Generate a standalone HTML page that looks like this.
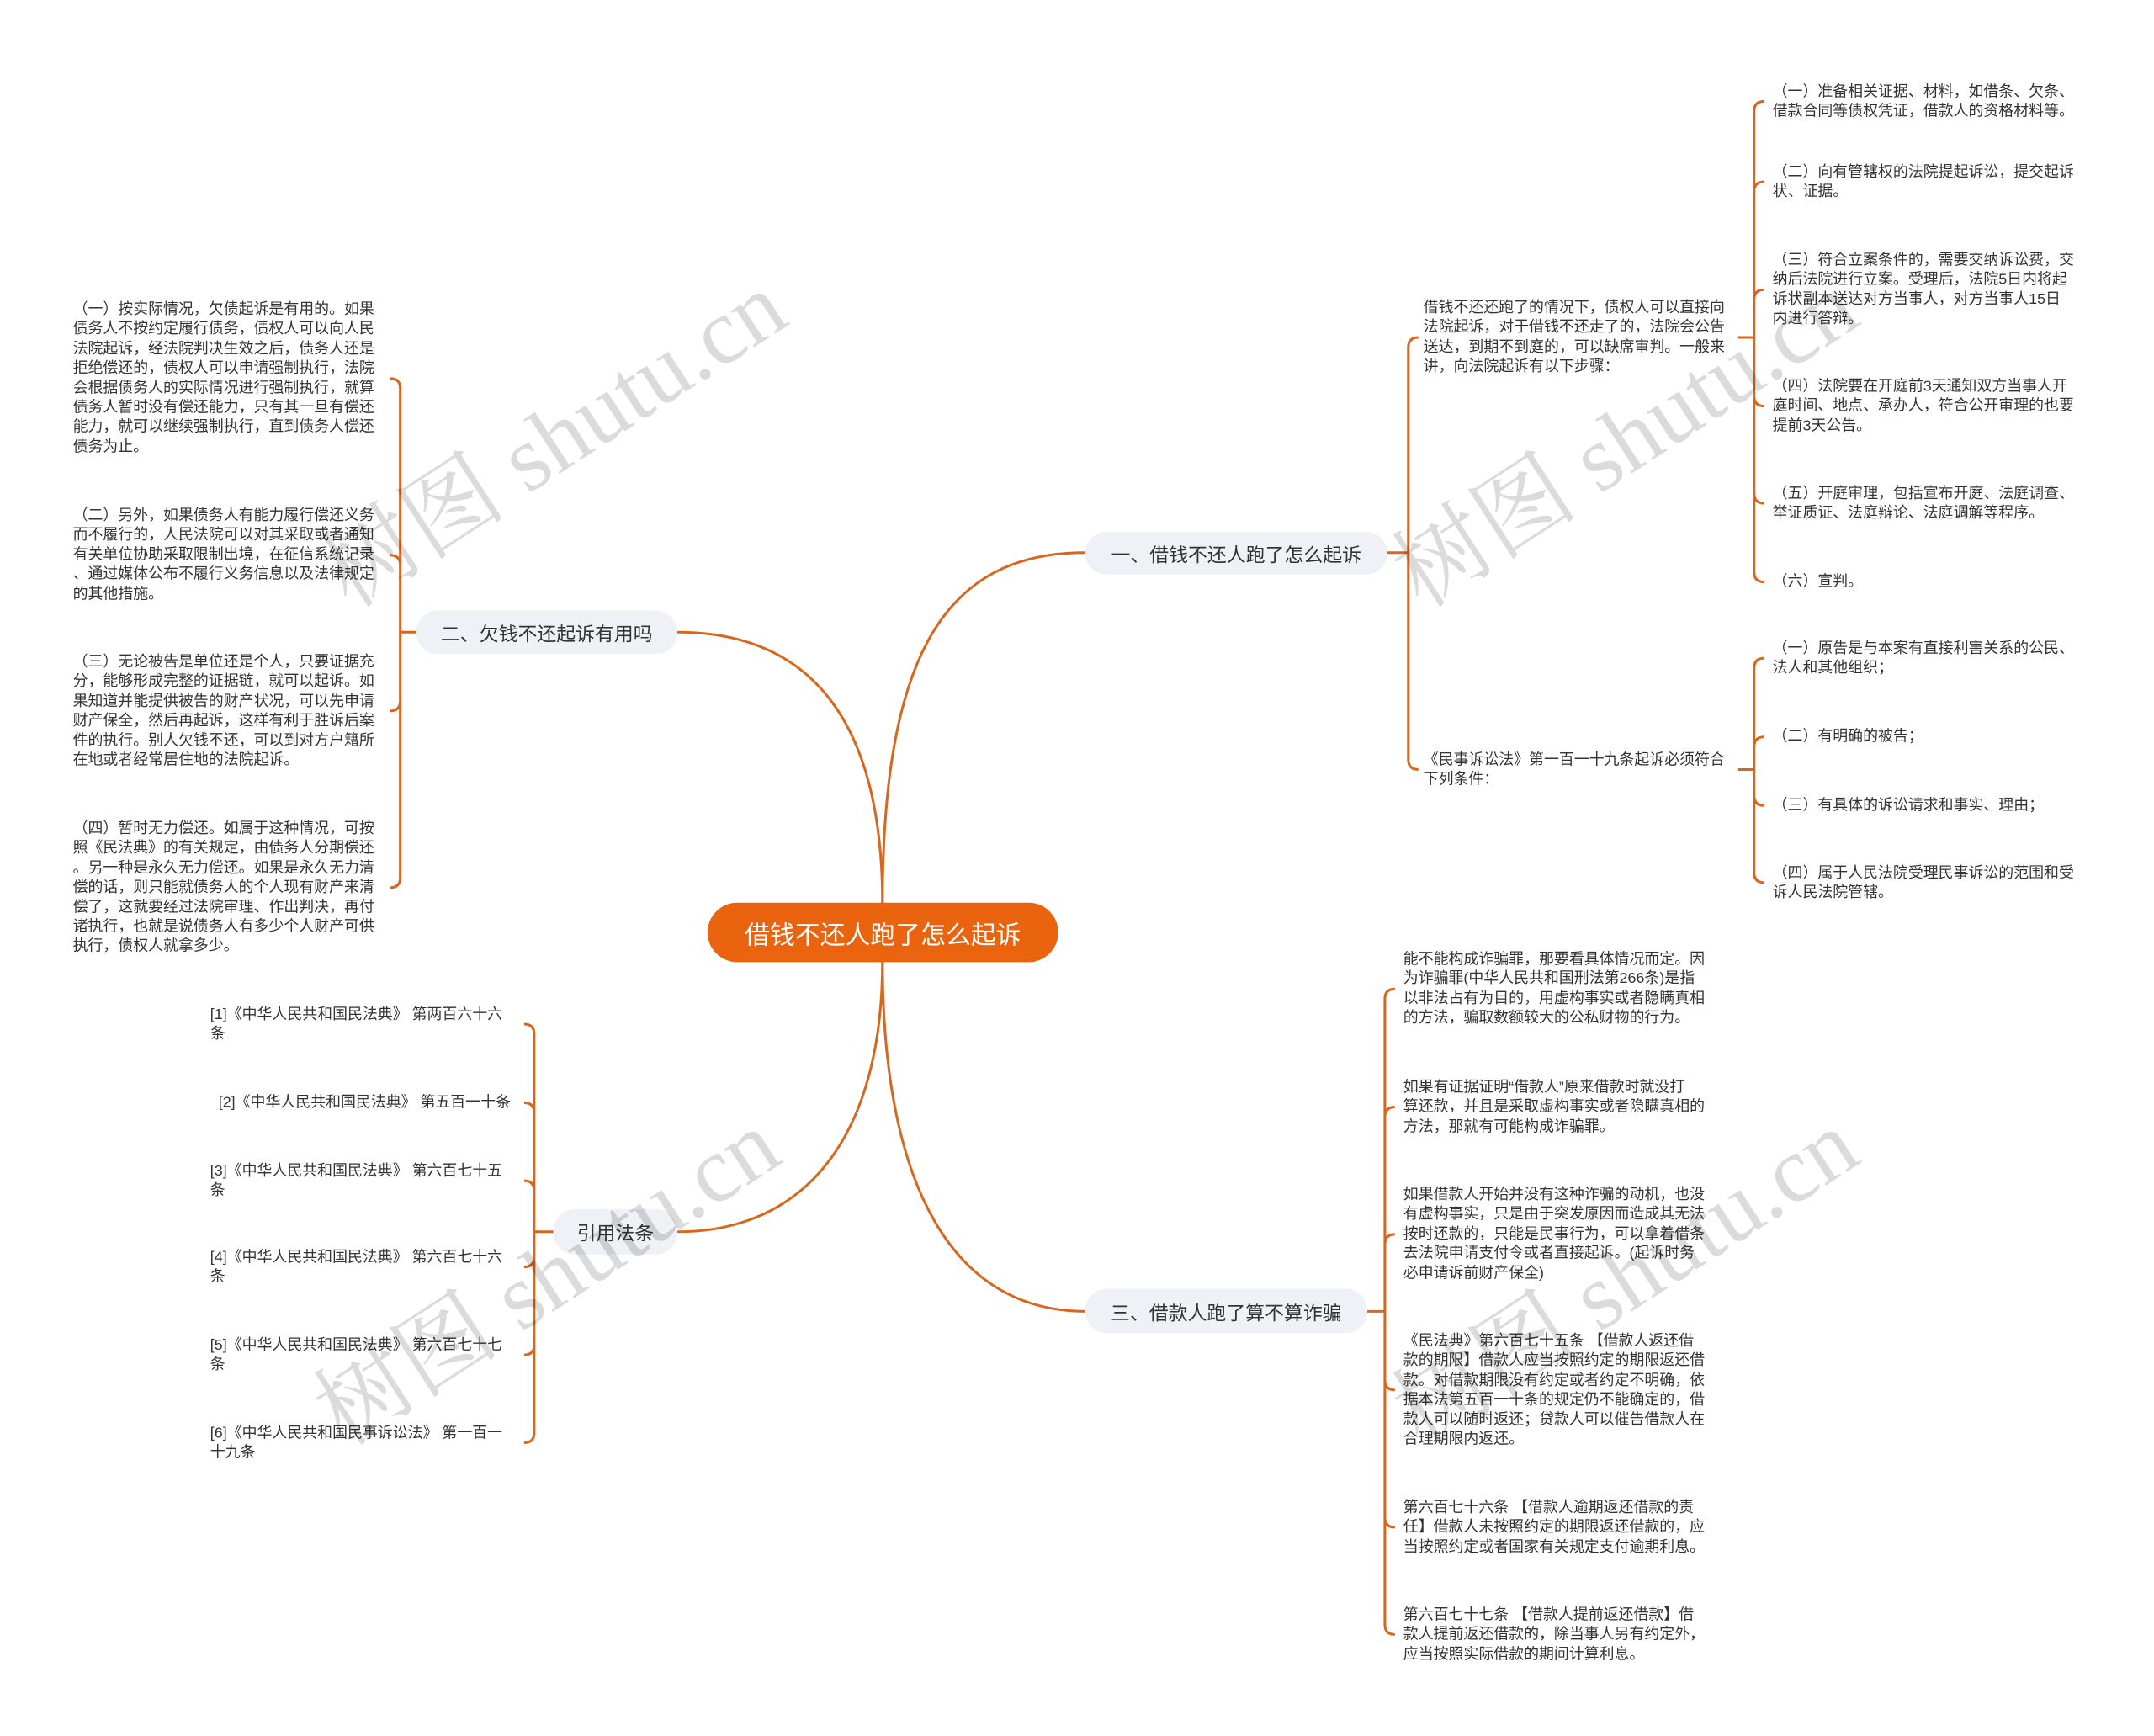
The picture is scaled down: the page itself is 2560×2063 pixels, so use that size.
<!DOCTYPE html>
<html><head><meta charset="utf-8"><style>
body{margin:0;width:2560px;height:2063px;background:#fff;position:relative;overflow:hidden;font-family:"Liberation Sans","Noto Sans CJK SC",sans-serif;}
#w{position:absolute;left:0;top:0;width:2560px;height:2063px;transform:scale(0.9951);transform-origin:0 0;}
.t{position:absolute;font-size:18px;line-height:23.4px;color:#333;white-space:nowrap;}
.b{position:absolute;background:#eef1f5;border-radius:26px;font-size:23px;color:#333;display:flex;align-items:center;justify-content:center;white-space:nowrap;}
.wm{position:absolute;font-family:"Liberation Serif","Noto Serif CJK SC",serif;font-size:112px;color:rgba(0,0,0,0.14);white-space:nowrap;transform:translate(-50%,-50%) rotate(-33deg);}
svg{position:absolute;left:0;top:0;}
</style></head><body><div id="w">
<svg width="2560" height="2063" fill="none" stroke="#d9661c" stroke-width="3">
<path d="M1054,1080 C1054,780 1130,660 1296,660"/>
<path d="M1054,1080 C1054,850 960,755 809,755"/>
<path d="M1054,1147 C1054,1360 960,1471 809,1471"/>
<path d="M1054,1147 C1054,1420 1140,1566 1296,1566"/>
<path d="M1657,660 L1682,660 M1682,660 L1682,415 Q1682,403 1694,403 M1682,660 L1682,907 Q1682,919 1694,919"/>
<path d="M2075,403 L2095,403 M2095,403 L2095,133 Q2095,121 2107,121 M2095,403 L2095,229 Q2095,217 2107,217 M2095,403 L2095,358 Q2095,346 2107,346 M2095,403 L2095,473 Q2095,485 2107,485 M2095,403 L2095,589 Q2095,601 2107,601 M2095,403 L2095,683 Q2095,695 2107,695"/>
<path d="M2075,919 L2095,919 M2095,919 L2095,798 Q2095,786 2107,786 M2095,919 L2095,892 Q2095,880 2107,880 M2095,919 L2095,950 Q2095,962 2107,962 M2095,919 L2095,1042 Q2095,1054 2107,1054"/>
<path d="M497,755 L478,755 M478,755 L478,464 Q478,452 466,452 M478,755 L478,675 Q478,663 466,663 M478,755 L478,837 Q478,849 466,849 M478,755 L478,1048 Q478,1060 466,1060"/>
<path d="M661,1471 L638,1471 M638,1471 L638,1235 Q638,1223 626,1223 M638,1471 L638,1329 Q638,1317 626,1317 M638,1471 L638,1422 Q638,1410 626,1410 M638,1471 L638,1501 Q638,1513 626,1513 M638,1471 L638,1606 Q638,1618 626,1618 M638,1471 L638,1711 Q638,1723 626,1723"/>
<path d="M1633,1566 L1654,1566 M1654,1566 L1654,1193 Q1654,1181 1666,1181 M1654,1566 L1654,1334 Q1654,1322 1666,1322 M1654,1566 L1654,1486 Q1654,1474 1666,1474 M1654,1566 L1654,1648 Q1654,1660 1666,1660 M1654,1566 L1654,1812 Q1654,1824 1666,1824 M1654,1566 L1654,1940 Q1654,1952 1666,1952"/>
</svg>

<div class="b" style="left:845px;top:1078px;width:419px;height:71px;background:#ea6410;border-radius:36px;color:#fff;font-size:30px;">借钱不还人跑了怎么起诉</div>
<div class="b" style="left:1296px;top:635px;width:361px;height:51px;">一、借钱不还人跑了怎么起诉</div>
<div class="b" style="left:497px;top:729px;width:312px;height:52px;">二、欠钱不还起诉有用吗</div>
<div class="b" style="left:661px;top:1444px;width:148px;height:54px;">引用法条</div>
<div class="b" style="left:1296px;top:1539px;width:337px;height:53px;">三、借款人跑了算不算诈骗</div>

<div class="t" style="left:1700px;top:356px;">借钱不还还跑了的情况下，债权人可以直接向<br>法院起诉，对于借钱不还走了的，法院会公告<br>送达，到期不到庭的，可以缺席审判。一般来<br>讲，向法院起诉有以下步骤：</div>
<div class="t" style="left:1700px;top:896px;">《民事诉讼法》第一百一十九条起诉必须符合<br>下列条件：</div>

<div class="t" style="left:2117px;top:98px;">（一）准备相关证据、材料，如借条、欠条、<br>借款合同等债权凭证，借款人的资格材料等。</div>
<div class="t" style="left:2117px;top:194px;">（二）向有管辖权的法院提起诉讼，提交起诉<br>状、证据。</div>
<div class="t" style="left:2117px;top:299px;">（三）符合立案条件的，需要交纳诉讼费，交<br>纳后法院进行立案。受理后，法院5日内将起<br>诉状副本送达对方当事人，对方当事人15日<br>内进行答辩。</div>
<div class="t" style="left:2117px;top:450px;">（四）法院要在开庭前3天通知双方当事人开<br>庭时间、地点、承办人，符合公开审理的也要<br>提前3天公告。</div>
<div class="t" style="left:2117px;top:578px;">（五）开庭审理，包括宣布开庭、法庭调查、<br>举证质证、法庭辩论、法庭调解等程序。</div>
<div class="t" style="left:2117px;top:683px;">（六）宣判。</div>

<div class="t" style="left:2117px;top:763px;">（一）原告是与本案有直接利害关系的公民、<br>法人和其他组织；</div>
<div class="t" style="left:2117px;top:868px;">（二）有明确的被告；</div>
<div class="t" style="left:2117px;top:950px;">（三）有具体的诉讼请求和事实、理由；</div>
<div class="t" style="left:2117px;top:1031px;">（四）属于人民法院受理民事诉讼的范围和受<br>诉人民法院管辖。</div>

<div class="t" style="left:87px;top:358px;">（一）按实际情况，欠债起诉是有用的。如果<br>债务人不按约定履行债务，债权人可以向人民<br>法院起诉，经法院判决生效之后，债务人还是<br>拒绝偿还的，债权人可以申请强制执行，法院<br>会根据债务人的实际情况进行强制执行，就算<br>债务人暂时没有偿还能力，只有其一旦有偿还<br>能力，就可以继续强制执行，直到债务人偿还<br>债务为止。</div>
<div class="t" style="left:87px;top:604px;">（二）另外，如果债务人有能力履行偿还义务<br>而不履行的，人民法院可以对其采取或者通知<br>有关单位协助采取限制出境，在征信系统记录<br>、通过媒体公布不履行义务信息以及法律规定<br>的其他措施。</div>
<div class="t" style="left:87px;top:779px;">（三）无论被告是单位还是个人，只要证据充<br>分，能够形成完整的证据链，就可以起诉。如<br>果知道并能提供被告的财产状况，可以先申请<br>财产保全，然后再起诉，这样有利于胜诉后案<br>件的执行。别人欠钱不还，可以到对方户籍所<br>在地或者经常居住地的法院起诉。</div>
<div class="t" style="left:87px;top:978px;">（四）暂时无力偿还。如属于这种情况，可按<br>照《民法典》的有关规定，由债务人分期偿还<br>。另一种是永久无力偿还。如果是永久无力清<br>偿的话，则只能就债务人的个人现有财产来清<br>偿了，这就要经过法院审理、作出判决，再付<br>诸执行，也就是说债务人有多少个人财产可供<br>执行，债权人就拿多少。</div>

<div class="t" style="left:251px;top:1200px;">[1]《中华人民共和国民法典》 第两百六十六<br>条</div>
<div class="t" style="left:261px;top:1305px;">[2]《中华人民共和国民法典》 第五百一十条</div>
<div class="t" style="left:251px;top:1387px;">[3]《中华人民共和国民法典》 第六百七十五<br>条</div>
<div class="t" style="left:251px;top:1490px;">[4]《中华人民共和国民法典》 第六百七十六<br>条</div>
<div class="t" style="left:251px;top:1595px;">[5]《中华人民共和国民法典》 第六百七十七<br>条</div>
<div class="t" style="left:251px;top:1700px;">[6]《中华人民共和国民事诉讼法》 第一百一<br>十九条</div>

<div class="t" style="left:1676px;top:1134px;">能不能构成诈骗罪，那要看具体情况而定。因<br>为诈骗罪(中华人民共和国刑法第266条)是指<br>以非法占有为目的，用虚构事实或者隐瞒真相<br>的方法，骗取数额较大的公私财物的行为。</div>
<div class="t" style="left:1676px;top:1287px;">如果有证据证明“借款人”原来借款时就没打<br>算还款，并且是采取虚构事实或者隐瞒真相的<br>方法，那就有可能构成诈骗罪。</div>
<div class="t" style="left:1676px;top:1415px;">如果借款人开始并没有这种诈骗的动机，也没<br>有虚构事实，只是由于突发原因而造成其无法<br>按时还款的，只能是民事行为，可以拿着借条<br>去法院申请支付令或者直接起诉。(起诉时务<br>必申请诉前财产保全)</div>
<div class="t" style="left:1676px;top:1590px;">《民法典》第六百七十五条 【借款人返还借<br>款的期限】借款人应当按照约定的期限返还借<br>款。对借款期限没有约定或者约定不明确，依<br>据本法第五百一十条的规定仍不能确定的，借<br>款人可以随时返还；贷款人可以催告借款人在<br>合理期限内返还。</div>
<div class="t" style="left:1676px;top:1789px;">第六百七十六条 【借款人逾期返还借款的责<br>任】借款人未按照约定的期限返还借款的，应<br>当按照约定或者国家有关规定支付逾期利息。</div>
<div class="t" style="left:1676px;top:1917px;">第六百七十七条 【借款人提前返还借款】借<br>款人提前返还借款的，除当事人另有约定外，<br>应当按照实际借款的期间计算利息。</div>

<div class="wm" style="left:656px;top:517px;">树图 shutu.cn</div>
<div class="wm" style="left:1936px;top:517px;">树图 shutu.cn</div>
<div class="wm" style="left:648px;top:1518px;">树图 shutu.cn</div>
<div class="wm" style="left:1936px;top:1518px;">树图 shutu.cn</div>
</div></body></html>
